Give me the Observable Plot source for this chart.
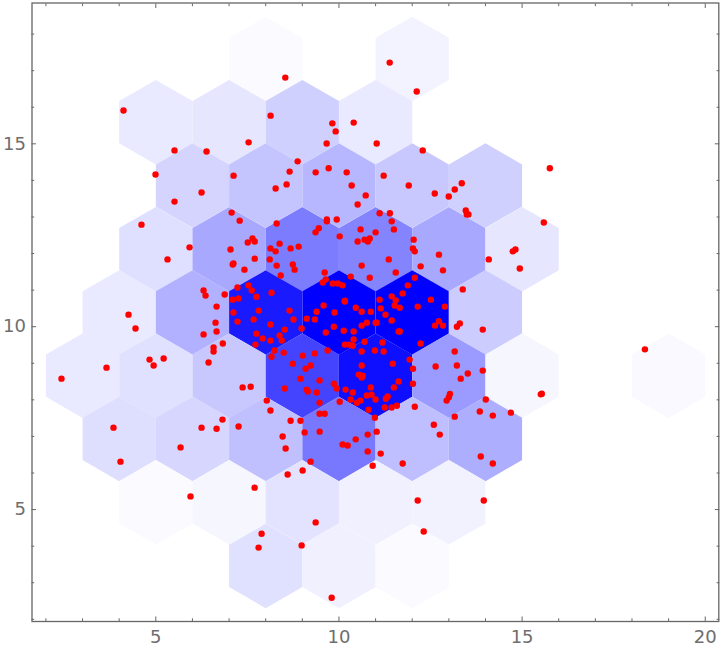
<!DOCTYPE html>
<html>
<head>
<meta charset="utf-8">
<script src="https://cdn.jsdelivr.net/npm/d3@7"></script>
<script src="https://cdn.jsdelivr.net/npm/@observablehq/plot@0.6"></script>
<style>
html,body{margin:0;padding:0;background:#fff}
svg{display:block}
</style>
</head>
<body>
<div id="chart"></div>
<script>
const hexX = [8,12, 5,7,9,11, 6,8,10,12,14, 5,7,9,11,13,15, 4,6,8,10,12,14, 3,5,7,9,11,13,15,19, 4,6,8,10,12,14, 5,7,9,11,13, 8,10,12];
const hexY = [17.32,17.32, 15.59,15.59,15.59,15.59, 13.86,13.86,13.86,13.86,13.86,
  12.12,12.12,12.12,12.12,12.12,12.12, 10.39,10.39,10.39,10.39,10.39,10.39,
  8.66,8.66,8.66,8.66,8.66,8.66,8.66,8.66, 6.93,6.93,6.93,6.93,6.93,6.93,
  5.2,5.2,5.2,5.2,5.2, 3.46,3.46,3.46];
const hexShade = [.016,.047, .086,.098,.184,.086, .169,.231,.282,.216,.184,
  .125,.341,.514,.482,.341,.098, .086,.306,.898,1,1,.2,
  .086,.122,.216,.733,.941,.396,.035,.024, .129,.161,.247,.529,.251,.318,
  .02,.035,.11,.059,.051, .122,.059,.02];

const points = [
[8.535,16.81],[4.118,15.91],[8.134,15.77],[5.511,14.82],[6.385,14.79],[7.533,15.04],[9.819,15.56],[9.91,15.34],[9.664,15.01],[10.402,15.58],
[8.872,14.52],[8.653,14.24],[8.571,13.89],[8.271,13.78],[7.123,14.13],[4.992,14.16],[6.249,13.67],[5.511,13.42],[9.364,14.22],[9.719,14.33],
[10.211,14.22],[10.347,13.86],[4.609,12.79],[5.921,12.17],[5.32,11.84],[6.304,10.99],[6.358,10.85],[6.659,10.55],[6.631,10.11],[4.255,10.33],
[4.446,9.95],[11.385,17.22],[12.123,16.43],[11.03,15.01],[12.287,14.82],[11.221,14.13],[11.905,13.86],[10.73,13.59],[12.615,13.64],[12.997,13.56],
[13.161,13.75],[13.353,13.92],[13.462,13.18],[13.49,13.07],[13.535,13.07],[15.757,14.33],[15.593,12.85],[14.819,12.11],[14.746,12.06],[14.937,11.59],
[14.09,11.84],[13.38,11.02],[6.304,9.79],[6.659,9.87],[6.577,9.43],[6.577,9.32],[6.44,9.02],[4.829,9.1],[4.941,8.94],[5.214,9.13],
[3.654,8.88],[2.425,8.58],[3.845,7.24],[4.036,6.31],[5.676,6.7],[6.249,7.24],[6.659,7.21],[8.462,7],[9.063,7.11],[9.473,7.13],
[8.544,6.67],[10.457,6.92],[10.101,6.78],[10.238,6.75],[9.227,6.31],[9.008,6.07],[8.599,5.96],[7.697,5.6],[5.948,5.36],[9.364,4.65],
[7.888,4.34],[7.806,3.96],[8.981,4.02],[9.801,2.59],[13.926,9.92],[18.353,9.38],[13.926,8.8],[13.517,8.72],[13.325,8.58],[14.008,8.01],
[13.845,7.68],[14.2,7.57],[14.692,7.65],[15.511,8.15],[15.538,8.17],[13.872,6.45],[14.2,6.26],[12.752,7.05],[11.74,6.26],[11.139,6.53],
[10.784,6.59],[10.921,6.2],[11.03,7.13],[10.784,7.05],[12.15,5.25],[13.954,5.25],[12.314,4.4],
[10.51,13.34],[7.07,13.12],[7.29,12.9],[8.3,12.82],[9.67,12.93],[9.67,12.88],[9.94,12.93],[9.45,12.69],[9.36,12.58],[10.02,12.47],
[11.11,13.1],[11.39,13.1],[11.44,12.88],[11.5,12.66],[10.59,12.66],[11,12.58],[10.51,12.33],[10.7,12.38],[10.84,12.41],[10.79,12.33],
[7.51,12.3],[7.64,12.41],[7.7,12.33],[7.04,12.11],[8.38,12.27],[8.13,12.14],[8.27,12.06],[8.68,12.14],[8.9,12.19],[8.11,11.84],
[7.7,11.86],[8.3,11.67],[8.74,11.7],[8.79,11.56],[7.12,11.73],[7.1,11.7],[7.42,11.56],[8.41,11.4],[12.04,12.38],[12.02,12.14],
[12.07,12.06],[12.73,11.97],[11.36,11.84],[10.62,11.67],[12.23,11.65],[12.84,11.54],[11.55,11.48],[10.84,11.34],[9.61,11.48],[10.32,11.37],
[9.64,11.29],[9.56,11.21],[9.83,11.18],[9.97,11.18],[10.1,11.13],[12.07,11.34],[11.88,11.13],[11.74,10.91],[11.44,10.83],[11.55,10.72],
[11.11,10.74],[11.52,10.58],[11.66,10.52],[11.14,10.5],[12.15,10.55],[12.51,10.74],[12.89,10.55],[11.27,10.33],[11.44,10.17],[12.73,10.15],
[12.62,10.03],[12.84,10.03],[13.22,10],[13.3,10.09],[6.88,10.88],[7.23,11.07],[7.53,11.13],[7.62,10.99],[7.75,10.82],[7.1,10.74],
[7.26,10.77],[8.16,10.93],[7.81,10.44],[8.65,10.44],[7.12,10.39],[7.67,10.2],[8.76,10.2],[7.23,10.14],[8.13,10.06],[8.52,9.92],
[8.98,9.95],[9.12,10.22],[9.34,10.2],[9.39,10.41],[9.58,10.58],[9.88,10.39],[10.16,10.71],[10.16,10.69],[10.46,10.52],[10.62,10.41],
[10.87,10.41],[10.76,10.11],[10.62,10.03],[11,10.11],[11.03,10.11],[9.86,10],[10.13,9.89],[10.4,9.87],[9.64,9.84],[11.63,9.87],
[11.66,9.87],[10.4,9.65],[10.7,9.59],[11.19,9.57],[10.16,9.51],[10.27,9.51],[10.38,9.48],[12.23,9.54],[7.75,9.81],[7.92,9.68],
[8.13,9.62],[8.38,9.76],[8.44,9.62],[7.72,9.51],[6.83,9.54],[8.24,9.35],[8.49,9.29],[8.16,9.18],[9.01,9.21],[9.34,9.27],
[9.69,9.35],[8.74,8.99],[9.23,8.94],[9.09,8.85],[8.95,8.58],[9.47,8.53],[9.86,8.44],[9.94,8.31],[10.18,8.28],[10.38,8.2],
[8.52,8.31],[9.12,8.28],[9.15,8.23],[9.39,8.2],[7.37,8.34],[7.59,8.36],[8.03,7.98],[8.13,7.71],[9.47,7.92],[10.02,7.95],
[9.47,7.62],[9.61,7.62],[8.68,7.43],[8.95,7.43],[6.82,7.46],[7.26,7.27],[10.62,9.32],[10.98,9.35],[11.22,9.32],[11.47,8.99],
[10.62,8.94],[10.54,8.69],[10.65,8.66],[10.62,8.61],[11.93,9.1],[12.02,8.85],[11.63,8.5],[12.02,8.44],[11.5,8.34],[10.87,8.34],
[10.76,8.12],[10.89,8.14],[11,8.01],[11.33,8.09],[11.28,8.03],[10.32,8.01],[10.59,7.98],[10.49,7.92],[11.58,7.84],[11.44,7.79],
[11.25,7.79],[10.81,7.73],[10.98,7.51],[12.07,7.81],[12.59,7.32],[13.16,9.32],[13.22,8.94],[12.64,8.91],[13.03,8.16],[13,8.07],
[12.94,7.98],[13.16,7.54]
];

const majorX = [5,10,15,20];
const majorY = [5,10,15];
const minorX = [2,3,4,6,7,8,9,11,12,13,14,16,17,18,19];
const minorY = [2,3,4,6,7,8,9,11,12,13,14,16,17,18];

const hexes = hexX.map((x,i)=>({x, y:hexY[i], shade:hexShade[i]}));
const axisColor = "#666";
const tickOpts = {stroke:axisColor, fill:"none", label:null, strokeWidth:1};

const chart = Plot.plot({
  width:720, height:652,
  marginLeft:31.5, marginRight:1.7, marginTop:2.5, marginBottom:31,
  style:{fontFamily:"'DejaVu Sans'", background:"#fff", overflow:"visible"},
  x:{domain:[1.62,20.37], axis:null},
  y:{domain:[1.94,18.85], axis:null},
  color:{type:"linear", domain:[0,1], range:["#ffffff","#0000ff"], interpolate:"rgb"},
  marks:[
    Plot.dot(hexes,{x:"x",y:"y",r:36.6,symbol:"hexagon",fill:"shade",stroke:"none"}),
    Plot.dot(points,{x:d=>d[0],y:d=>d[1],r:3.2,fill:"#ff0000",stroke:"none"}),
    Plot.frame({stroke:axisColor,strokeWidth:1.3}),
    Plot.axisX(minorX,{anchor:"bottom",tickSize:-2.7,...tickOpts}),
    Plot.axisX(minorX,{anchor:"top",tickSize:-2.7,...tickOpts}),
    Plot.axisY(minorY,{anchor:"left",tickSize:-2.7,...tickOpts}),
    Plot.axisY(minorY,{anchor:"right",tickSize:-2.7,...tickOpts}),
    Plot.axisX(majorX,{anchor:"bottom",tickSize:-4.5,...tickOpts}),
    Plot.axisX(majorX,{anchor:"top",tickSize:-4.5,...tickOpts}),
    Plot.axisY(majorY,{anchor:"left",tickSize:-4.5,...tickOpts}),
    Plot.axisY(majorY,{anchor:"right",tickSize:-4.5,...tickOpts}),
    Plot.axisX(majorX,{anchor:"bottom",tickSize:0,tickPadding:9,stroke:"none",fill:"#6e6e6e",fontSize:18,label:null}),
    Plot.axisY(majorY,{anchor:"left",tickSize:0,tickPadding:6,stroke:"none",fill:"#6e6e6e",fontSize:18,label:null})
  ]
});
document.getElementById("chart").append(chart);
</script>
</body>
</html>
